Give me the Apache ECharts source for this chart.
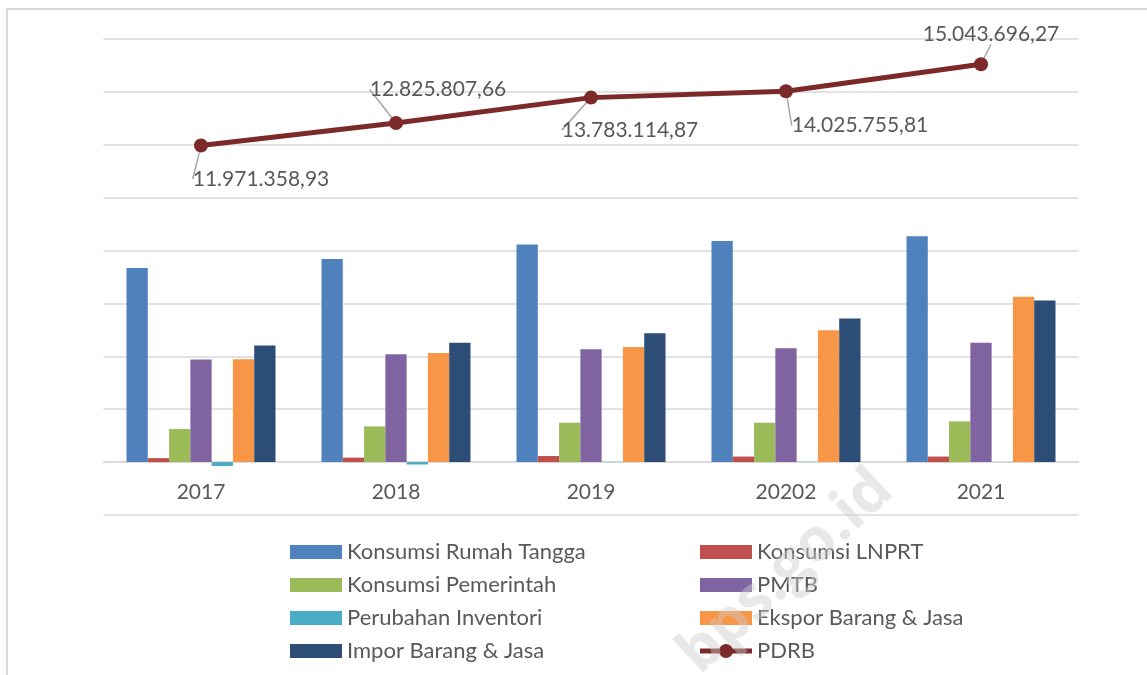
<!DOCTYPE html>
<html>
<head>
<meta charset="utf-8">
<script src="https://cdn.jsdelivr.net/npm/echarts@6/dist/echarts.min.js"></script>
<style>
  html, body { margin: 0; padding: 0; background: #fff; }
  #chart { width: 1147px; height: 675px; }
</style>
</head>
<body>
<div id="chart"></div>
<script>
// kategori tahun
const years = ['2017', '2018', '2019', '20202', '2021'];
// komponen pengeluaran
const konsumsiRT = [7345000, 7680000, 8230000, 8360000, 8540000];
const konsumsiLNPRT = [150000, 170000, 230000, 210000, 210000];
const konsumsiPemerintah = [1250000, 1350000, 1490000, 1490000, 1540000];
const pmtb = [3880000, 4080000, 4270000, 4310000, 4510000];
const perubahanInventori = [-150000, -90000, 8000, 6000, 5000];
const eksporBJ = [3890000, 4130000, 4350000, 4990000, 6250000];
const imporBJ = [4410000, 4510000, 4870000, 5430000, 6110000];
const pdrb = [11971358.93, 12825807.66, 13783114.87, 14025755.81, 15043696.27];

// geser label PDRB (dx, dy) dari posisi atas titik
const labelShift = [[60, 56], [42, -11], [39, 55], [74, 57], [10, -8]];

const textColor = '#595959';
const fontFamily = 'Lato';
// ikon legenda PDRB: garis tebal + lingkaran
const lineDotIcon = 'path://M0,4.5H52V9.5H0Z M19,7a7,7 0 1,1 14,0a7,7 0 1,1 -14,0Z';

// format angka gaya Indonesia: 11.971.358,93
function formatID(v) {
    const parts = v.toFixed(2).split('.');
    return parts[0].replace(/\B(?=(\d{3})+(?!\d))/g, '.') + ',' + parts[1];
}

const myChart = echarts.init(document.getElementById('chart'));

function barSeries(name, data, color) {
    return {
        name: name,
        type: 'bar',
        data: data,
        barGap: '0%',
        barCategoryGap: '23.6%',
        itemStyle: { color: color },
        emphasis: { disabled: true }
    };
}

const legendText = { color: textColor, fontSize: 22, lineHeight: 22, fontFamily: fontFamily };

const option = {
    backgroundColor: '#fff',
    animation: false,
    textStyle: { fontFamily: fontFamily },
    grid: { left: 103.5, right: 68.5, top: 39, bottom: 160 },
    xAxis: {
        type: 'category',
        data: years,
        // sumbu kategori diletakkan di garis nol (satu interval di atas dasar grid)
        offset: -52.9,
        axisLine: { onZero: false, lineStyle: { color: '#d9d9d9', width: 1.5 } },
        axisTick: { show: false },
        axisLabel: { color: textColor, fontSize: 21, margin: 20, fontFamily: fontFamily }
    },
    yAxis: {
        type: 'value',
        min: -2000000,
        max: 16000000,
        interval: 2000000,
        axisLabel: { show: false },
        axisLine: { show: false },
        axisTick: { show: false },
        splitLine: { lineStyle: { color: '#d9d9d9', width: 1.5 } }
    },
    legend: [
        {
            orient: 'vertical',
            left: 285,
            top: 536,
            itemWidth: 52,
            itemHeight: 14,
            itemGap: 11,
            textStyle: legendText,
            data: [
                { name: 'Konsumsi Rumah Tangga', icon: 'rect' },
                { name: 'Konsumsi Pemerintah', icon: 'rect' },
                { name: 'Perubahan Inventori', icon: 'rect' },
                { name: 'Impor Barang & Jasa', icon: 'rect' }
            ]
        },
        {
            orient: 'vertical',
            left: 695,
            top: 536,
            itemWidth: 52,
            itemHeight: 14,
            itemGap: 11,
            textStyle: legendText,
            data: [
                { name: 'Konsumsi LNPRT', icon: 'rect' },
                { name: 'PMTB', icon: 'rect' },
                { name: 'Ekspor Barang & Jasa', icon: 'rect' },
                { name: 'PDRB', icon: lineDotIcon }
            ]
        }
    ],
    graphic: [
        {
            type: 'rect',
            z: -10,
            shape: { x: 7, y: 9, width: 1150, height: 680 },
            style: { fill: 'none', stroke: '#d9d9d9', lineWidth: 2 }
        },
        {
            type: 'text',
            z: 100,
            x: 786,
            y: 572,
            rotation: 0.75,
            style: {
                text: 'bps.go.id',
                fontSize: 60,
                fontWeight: 'bold',
                fontFamily: 'Open Sans',
                fill: 'rgba(205,205,205,0.45)',
                align: 'center',
                verticalAlign: 'middle'
            }
        }
    ],
    series: [
        barSeries('Konsumsi Rumah Tangga', konsumsiRT, '#4f81bd'),
        barSeries('Konsumsi LNPRT', konsumsiLNPRT, '#c0504d'),
        barSeries('Konsumsi Pemerintah', konsumsiPemerintah, '#9bbb59'),
        barSeries('PMTB', pmtb, '#8064a2'),
        barSeries('Perubahan Inventori', perubahanInventori, '#4bacc6'),
        barSeries('Ekspor Barang & Jasa', eksporBJ, '#f79646'),
        barSeries('Impor Barang & Jasa', imporBJ, '#2c4d75'),
        {
            name: 'PDRB',
            type: 'line',
            data: pdrb,
            z: 5,
            symbol: 'circle',
            symbolSize: 14,
            lineStyle: { color: '#7c2929', width: 5 },
            itemStyle: { color: '#7c2929' },
            label: {
                show: true,
                position: 'top',
                distance: 5,
                color: textColor,
                fontSize: 21,
                fontFamily: fontFamily,
                formatter: function (p) { return formatID(p.value); }
            },
            labelLine: { show: true, lineStyle: { color: '#a6a6a6', width: 1.5 } },
            labelLayout: function (params) {
                const s = labelShift[params.dataIndex];
                return { dx: s[0], dy: s[1] };
            },
            emphasis: { disabled: true }
        }
    ]
};

myChart.setOption(option);
</script>
</body>
</html>
